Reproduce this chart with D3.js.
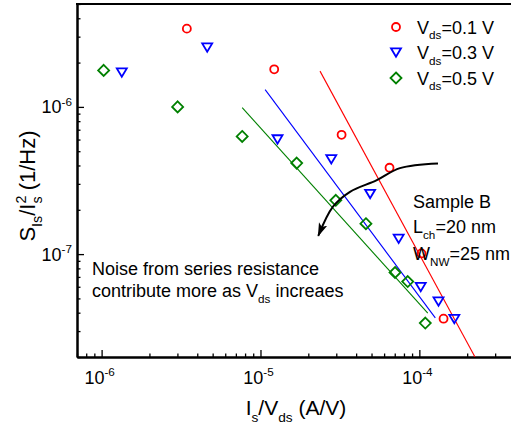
<!DOCTYPE html>
<html>
<head>
<meta charset="utf-8">
<script src="https://cdn.jsdelivr.net/npm/d3@7"></script>
<style>
  body { margin: 0; background: #fff; }
  text { font-family: "Liberation Sans", Arial, sans-serif; fill: #000; }
</style>
</head>
<body>
<div id="chart"></div>
<script>
// data
const redX = [3.44e-6, 1.22e-5, 3.24e-5, 6.49e-5, 1.03e-4, 1.42e-4];
const redY = [3.40e-6, 1.80e-6, 6.46e-7, 3.86e-7, 1.01e-7, 3.64e-8];
const blueX = [1.34e-6, 4.62e-6, 1.28e-5, 2.79e-5, 4.90e-5, 7.41e-5, 1.02e-4, 1.32e-4, 1.66e-4];
const blueY = [1.71e-6, 2.53e-6, 6.01e-7, 4.40e-7, 2.56e-7, 1.27e-7, 5.97e-8, 4.76e-8, 3.62e-8];
const greenX = [1.03e-6, 3.01e-6, 7.67e-6, 1.69e-5, 2.98e-5, 4.61e-5, 7.03e-5, 8.45e-5, 1.09e-4];
const greenY = [1.77e-6, 1.00e-6, 6.30e-7, 4.15e-7, 2.32e-7, 1.61e-7, 7.50e-8, 6.51e-8, 3.40e-8];

// fitted guide lines (end points)
const redFitX = [2.37e-5, 2.24e-4], redFitY = [1.75e-6, 2.0e-8];
const blueFitX = [1.07e-5, 1.26e-4], blueFitY = [1.31e-6, 3.69e-8];
const greenFitX = [7.67e-6, 1.13e-4], greenFitY = [9.9e-7, 3.97e-8];

// curved arrow path (data units)
const arrowX = [1.31e-4, 7.55e-5, 5.40e-5, 3.66e-5, 2.86e-5, 2.31e-5];
const arrowY = [4.13e-7, 3.84e-7, 3.18e-7, 2.65e-7, 2.10e-7, 1.33e-7];

const legendLabels = ["0.1 V", "0.3 V", "0.5 V"];
const xMajor = [1e-6, 1e-5, 1e-4];
const xMajorExp = ["-6", "-5", "-4"];
const yMajor = [1e-7, 1e-6];
const yMajorExp = ["-7", "-6"];

const width = 511, height = 428;
const plot = { left: 77, right: 515, top: 4, bottom: 357 };

const svg = d3.select("#chart").append("svg")
    .attr("width", width)
    .attr("height", height);

const x = d3.scaleLog().domain([7e-7, 4e-4]).range([plot.left, plot.right]);
const y = d3.scaleLog().domain([2e-8, 5e-6]).range([plot.bottom, plot.top]);

// write text with sub/superscripts
function rich(sel, parts, fs) {
    let shift = 0;
    parts.forEach(([str, kind, dx]) => {
        const target = kind === "sub" ? fs * 0.32 : kind === "sup" ? -fs * 0.42 : 0;
        const t = sel.append("tspan").text(str).attr("dy", target - shift);
        if (kind) t.attr("font-size", fs * 0.65);
        if (dx) t.attr("dx", dx);
        shift = target;
    });
}

svg.append("defs").append("clipPath").attr("id", "clip")
    .append("rect")
    .attr("x", plot.left).attr("y", plot.top)
    .attr("width", plot.right - plot.left).attr("height", plot.bottom - plot.top);

// axes
const minorX = x.ticks().filter(v => !xMajor.some(m => Math.abs(m - v) / m < 1e-6));
const minorY = y.ticks().filter(v => !yMajor.some(m => Math.abs(m - v) / m < 1e-6));

const gx = svg.append("g").attr("transform", `translate(0,${plot.bottom})`);
gx.append("g").call(d3.axisBottom(x).tickValues(minorX).tickSizeInner(-3.5).tickSizeOuter(0).tickFormat(""));
gx.append("g").call(d3.axisBottom(x).tickValues(xMajor).tickSizeInner(-7).tickSizeOuter(0).tickFormat(""));

const gy = svg.append("g").attr("transform", `translate(${plot.left},0)`);
gy.append("g").call(d3.axisLeft(y).tickValues(minorY).tickSizeInner(-3.5).tickSizeOuter(0).tickFormat(""));
gy.append("g").call(d3.axisLeft(y).tickValues(yMajor).tickSizeInner(-7).tickSizeOuter(0).tickFormat(""));

svg.selectAll(".domain").attr("stroke", "#000").attr("stroke-width", 2);
svg.selectAll(".tick line").attr("stroke", "#000").attr("stroke-width", 1.3);

// top frame line
svg.append("line")
    .attr("x1", plot.left - 1).attr("x2", plot.right)
    .attr("y1", plot.top).attr("y2", plot.top)
    .attr("stroke", "#000").attr("stroke-width", 2);

// tick labels
xMajor.forEach((v, i) => {
    const t = svg.append("text")
        .attr("x", x(v) - 2).attr("y", 384)
        .attr("text-anchor", "middle")
        .attr("font-size", 18);
    rich(t, [["10"], [xMajorExp[i], "sup"]], 18);
});
yMajor.forEach((v, i) => {
    const t = svg.append("text")
        .attr("x", 72).attr("y", y(v) + 6.5)
        .attr("text-anchor", "end")
        .attr("font-size", 18);
    rich(t, [["10"], [yMajorExp[i], "sup"]], 18);
});

// axis titles
const xt = svg.append("text")
    .attr("x", 296).attr("y", 415)
    .attr("text-anchor", "middle")
    .attr("font-size", 21);
rich(xt, [["I"], ["s", "sub"], ["/V"], ["ds", "sub"], [" (A/V)"]], 21);

const yt = svg.append("text")
    .attr("transform", "translate(35,186) rotate(-90)")
    .attr("text-anchor", "middle")
    .attr("font-size", 22);
rich(yt, [["S"], ["Is", "sub"], ["/I"], ["2", "sup"], ["s", "sub", -8], [" (1/Hz)"]], 22);

// fit lines
const line = d3.line().x(d => x(d[0])).y(d => y(d[1]));
const fits = [
    [redFitX, redFitY, "#ff0000"],
    [blueFitX, blueFitY, "#0000ff"],
    [greenFitX, greenFitY, "#008000"]
];
const gFit = svg.append("g").attr("clip-path", "url(#clip)");
fits.forEach(([fx, fy, c]) => {
    gFit.append("path")
        .attr("d", line(d3.zip(fx, fy)))
        .attr("fill", "none")
        .attr("stroke", c)
        .attr("stroke-width", 1.1);
});

// markers
const circlePath = "M4,0A4,4 0 1,1 -4,0A4,4 0 1,1 4,0Z";
const triPath = "M-5,-4.2L5,-4.2L0,4.2Z";
const diaPath = "M0,-5.5L5.5,0L0,5.5L-5.5,0Z";

const series = [
    { xs: redX, ys: redY, color: "#ff0000", shape: circlePath },
    { xs: blueX, ys: blueY, color: "#0000ff", shape: triPath },
    { xs: greenX, ys: greenY, color: "#008000", shape: diaPath }
];

series.forEach(s => {
    svg.append("g").selectAll("path")
        .data(d3.zip(s.xs, s.ys))
        .enter()
        .append("path")
        .attr("d", s.shape)
        .attr("transform", d => `translate(${x(d[0])},${y(d[1])})`)
        .attr("fill", "none")
        .attr("stroke", s.color)
        .attr("stroke-width", 1.8);
});

// legend
series.forEach((s, i) => {
    const cy = 27 + i * 25.5;
    svg.append("path")
        .attr("d", s.shape)
        .attr("transform", `translate(396,${cy})`)
        .attr("fill", "none")
        .attr("stroke", s.color)
        .attr("stroke-width", 1.8);
    const t = svg.append("text")
        .attr("x", 417).attr("y", cy + 6.5)
        .attr("font-size", 18);
    rich(t, [["V"], ["ds", "sub"], ["=" + legendLabels[i]]], 18);
});

// curved arrow
svg.append("defs").append("marker")
    .attr("id", "head")
    .attr("viewBox", "0 -5 15 10")
    .attr("refX", 13).attr("refY", 0)
    .attr("markerUnits", "userSpaceOnUse")
    .attr("markerWidth", 15).attr("markerHeight", 10)
    .attr("orient", "auto")
    .append("path")
    .attr("d", "M0,-4.5L14,0L0,4.5L3.5,0Z")
    .attr("fill", "#000");

svg.append("path")
    .attr("d", d3.line().curve(d3.curveCatmullRom).x(d => x(d[0])).y(d => y(d[1]))(d3.zip(arrowX, arrowY)))
    .attr("fill", "none")
    .attr("stroke", "#000")
    .attr("stroke-width", 2)
    .attr("marker-end", "url(#head)");

// annotations
const s1 = svg.append("text").attr("x", 413).attr("y", 208).attr("font-size", 18);
rich(s1, [["Sample B"]], 18);
const s2 = svg.append("text").attr("x", 413).attr("y", 233).attr("font-size", 18);
rich(s2, [["L"], ["ch", "sub"], ["=20 nm"]], 18);
const s3 = svg.append("text").attr("x", 413).attr("y", 260).attr("font-size", 18);
rich(s3, [["W"], ["NW", "sub"], ["=25 nm"]], 18);

const n1 = svg.append("text").attr("x", 92).attr("y", 275).attr("font-size", 18);
rich(n1, [["Noise from series resistance"]], 18);
const n2 = svg.append("text").attr("x", 92).attr("y", 297).attr("font-size", 18);
rich(n2, [["contribute more as V"], ["ds", "sub"], [" increaes"]], 18);
</script>
</body>
</html>
